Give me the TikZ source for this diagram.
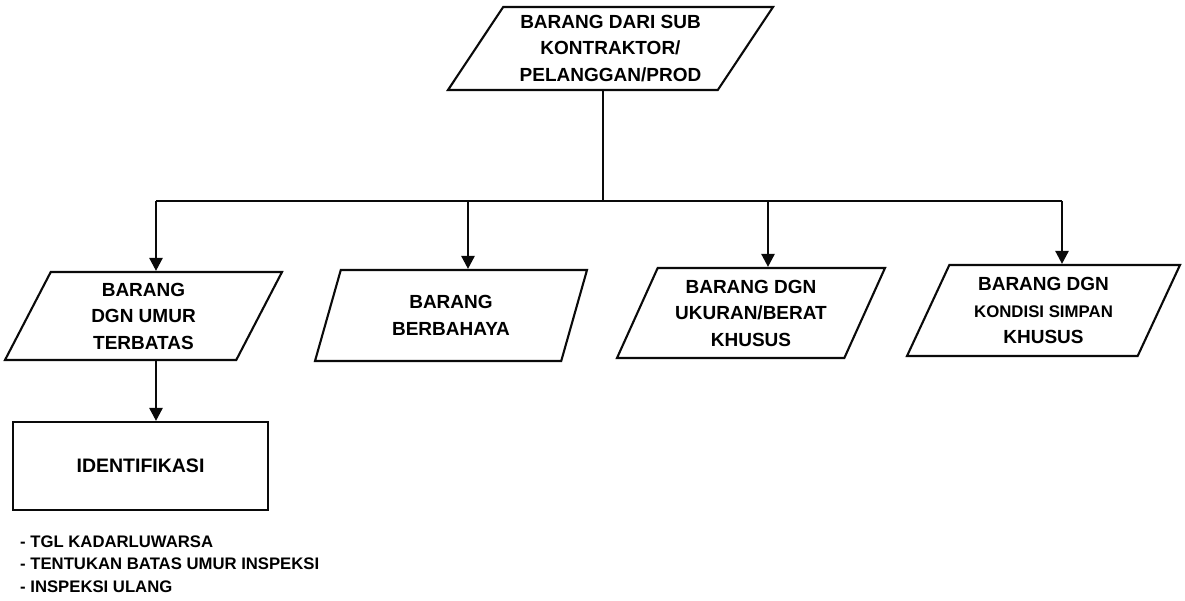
\documentclass[tikz,border=0pt]{standalone}
\usepackage{fontspec}
\setmainfont{Liberation Sans}
\usepackage{tikz}
\usetikzlibrary{shapes.geometric, arrows.meta, positioning, calc}
\definecolor{myink}{RGB}{10,10,10}
\tikzset{
  iobox/.style={trapezium, trapezium left angle=#1, trapezium right angle={180-#1},
    trapezium stretches body, draw=myink, line width=2.1pt, align=center,
    inner sep=2pt, font=\bfseries\fontsize{19}{26.5}\selectfont},
  iobox/.default=59,
  procbox/.style={rectangle, draw=myink, line width=2.1pt, align=center,
    minimum width=255pt, minimum height=88pt, font=\bfseries\fontsize{19.5}{22}\selectfont},
  arrow/.style={-{Triangle[width=13pt,length=13pt]}, line width=2.5pt, color=myink},
  line/.style={line width=2.5pt, color=myink}
}
\begin{document}
\begin{tikzpicture}[x=1pt, y=-1pt]
  \useasboundingbox (0,0) rectangle (1185,601);

  % Nodes
  \node[iobox=52, minimum width=325pt, minimum height=83pt] (src) at (610.5,48.5)
    {BARANG DARI SUB\\KONTRAKTOR/\\PELANGGAN/PROD};

  \node[iobox=57, minimum width=277pt, minimum height=88pt] (umur) at (143.5,316)
    {BARANG\\DGN UMUR\\TERBATAS};
  \node[iobox=59.5, minimum width=272pt, minimum height=91pt] (bahaya) at (451,315.5)
    {BARANG\\BERBAHAYA};
  \node[iobox=60, minimum width=268pt, minimum height=90pt] (ukuran) at (751,313)
    {BARANG DGN\\UKURAN/BERAT\\KHUSUS};
  \node[iobox=59, minimum width=273pt, minimum height=91pt] (simpan) at (1043.5,310.5)
    {BARANG DGN\\{\fontsize{16.8}{26.5}\selectfont KONDISI SIMPAN}\\KHUSUS};

  \node[procbox] (idf) at (140.5,466) {IDENTIFIKASI};

  \node[anchor=west, align=left, inner sep=0pt,
    font=\bfseries\fontsize{16.7}{22.5}\selectfont] (ket) at (20,564)
    {- TGL KADARLUWARSA\\- TENTUKAN BATAS UMUR INSPEKSI\\- INSPEKSI ULANG};

  % Bus
  \coordinate (hub) at (603,201);
  \coordinate (j1) at (156,201);
  \coordinate (j2) at (468,201);
  \coordinate (j3) at (768,201);
  \coordinate (j4) at (1062,201);

  % Connections
  \draw[line] (src.south -| hub) -- (hub);
  \draw[line] (j1) -- (j4);
  \draw[arrow] (j1) -- (j1 |- umur.north);
  \draw[arrow] (j2) -- (j2 |- bahaya.north);
  \draw[arrow] (j3) -- (j3 |- ukuran.north);
  \draw[arrow] (j4) -- (j4 |- simpan.north);
  \draw[arrow] (umur.south -| j1) -- (j1 |- idf.north);

\end{tikzpicture}
\end{document}
